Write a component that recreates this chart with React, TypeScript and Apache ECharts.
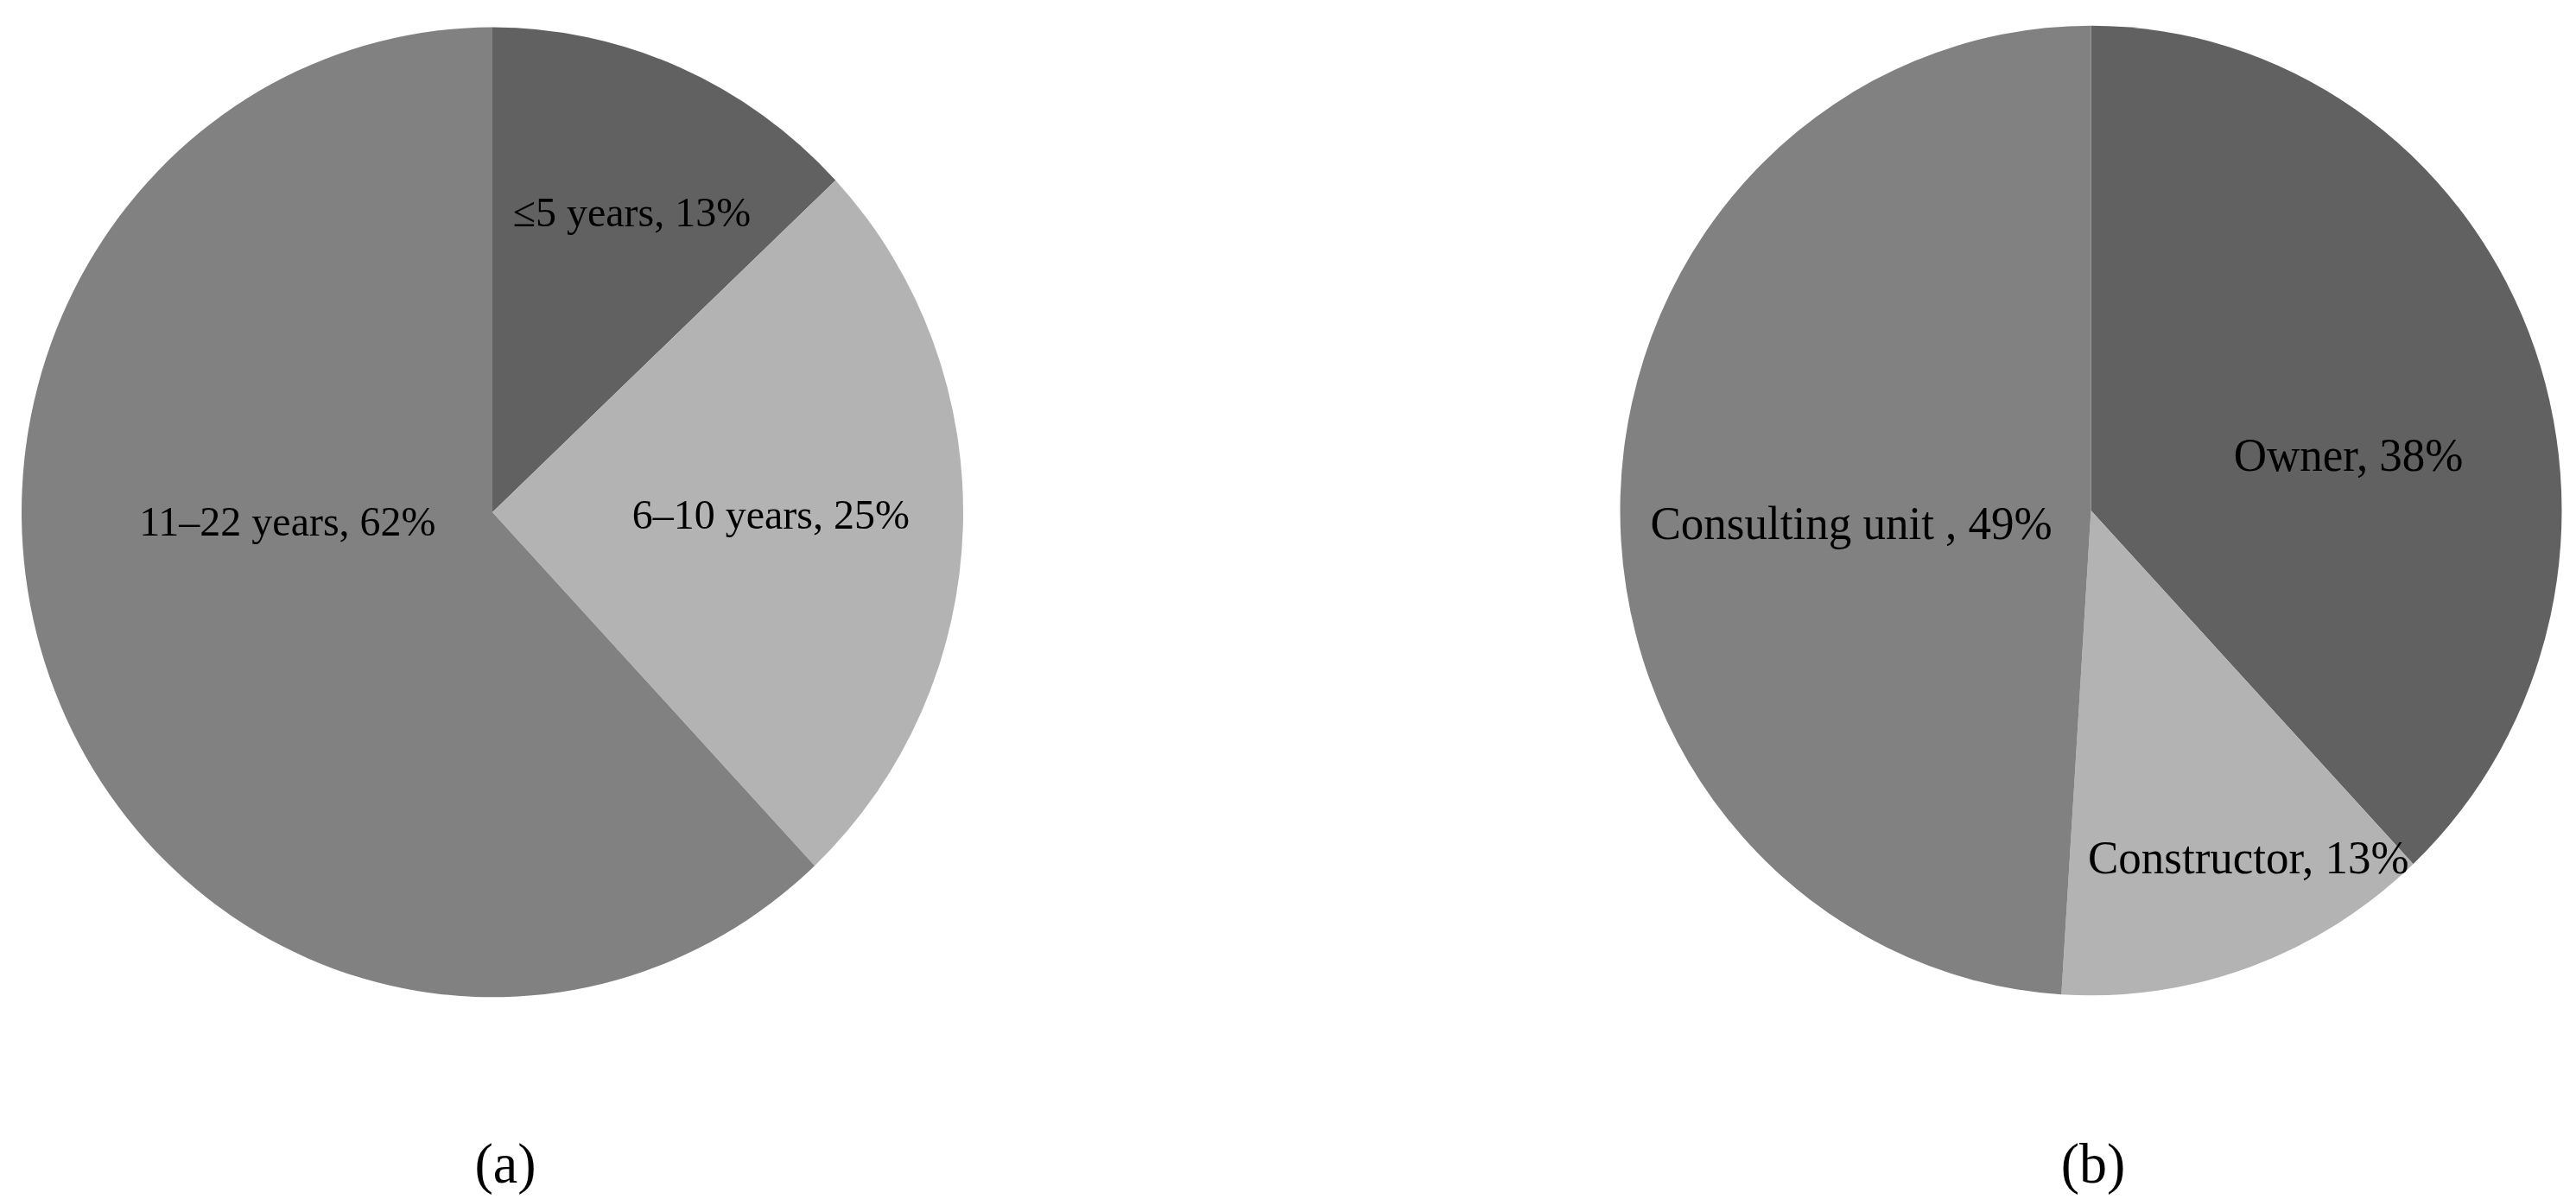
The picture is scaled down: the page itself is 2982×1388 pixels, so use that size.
import React, { useEffect, useRef } from "react";
import * as echarts from "echarts";

// Data
const experienceCategories = ["≤5 years", "6–10 years", "11–22 years"];
const experienceValues = [13, 25, 62];
const unitCategories = ["Owner", "Constructor", "Consulting unit "];
const unitValues = [38, 13, 49];
const panelLabels = ["(a)", "(b)"];

// Styling / layout
const STRETCH_Y = 1.03; // reference pies are slightly taller than wide
const sliceColors = ["#616161", "#b3b3b3", "#818181"];
const unitColors = ["#616161", "#b3b3b3", "#818181"];
const labelShiftA = [
  [52, -84],
  [47, -6],
  [19, -91],
];
const labelShiftB = [
  [42, 39],
  [89, 131],
  [-2, 23],
];
const FONT = "'Liberation Serif', 'Times New Roman', serif";

export default function App() {
  const ref = useRef<HTMLDivElement>(null);
  useEffect(() => {
    if (!ref.current) return;
    const chart = echarts.init(ref.current, null, { renderer: "svg" });
    const labelStyle = (size: number) => ({
      show: true,
      position: "inside",
      formatter: "{b}, {c}%",
      color: "#000",
      fontFamily: FONT,
      fontSize: size,
      fontWeight: "normal",
    });
    const mk = (names: string[], vals: number[], colors: string[]) =>
      names.map((n, i) => ({ name: n, value: vals[i], itemStyle: { color: colors[i] } }));
    chart.setOption({
      animation: false,
      backgroundColor: "#ffffff",
      series: [
        {
          type: "pie",
          center: [570, 575.7],
          radius: 545,
          startAngle: 90,
          clockwise: true,
          avoidLabelOverlap: false,
          itemStyle: { borderWidth: 0 },
          emphasis: { disabled: true },
          label: labelStyle(48),
          labelLine: { show: false },
          labelLayout: (p: any) => ({ dx: labelShiftA[p.dataIndex][0], dy: labelShiftA[p.dataIndex][1] }),
          data: mk(experienceCategories, experienceValues, sliceColors),
        },
        {
          type: "pie",
          center: [2420.5, 573.8],
          radius: 545,
          startAngle: 90,
          clockwise: true,
          avoidLabelOverlap: false,
          itemStyle: { borderWidth: 0 },
          emphasis: { disabled: true },
          label: labelStyle(53),
          labelLine: { show: false },
          labelLayout: (p: any) => ({ dx: labelShiftB[p.dataIndex][0], dy: labelShiftB[p.dataIndex][1] }),
          data: mk(unitCategories, unitValues, unitColors),
        },
      ],
      graphic: [
        {
          type: "text",
          x: 585,
          y: 1307,
          style: {
            text: panelLabels[0],
            fontFamily: FONT,
            fontSize: 64,
            fill: "#000",
            align: "center",
            verticalAlign: "middle",
          },
        },
        {
          type: "text",
          x: 2423,
          y: 1307,
          style: {
            text: panelLabels[1],
            fontFamily: FONT,
            fontSize: 64,
            fill: "#000",
            align: "center",
            verticalAlign: "middle",
          },
        },
      ],
    });
    return () => chart.dispose();
  }, []);
  return (
    <div
      ref={ref}
      style={{
        position: "fixed",
        left: 0,
        top: 0,
        width: 2982,
        height: Math.round(1388 / STRETCH_Y),
        background: "#fff",
        transform: `scaleY(${STRETCH_Y})`,
        transformOrigin: "0 0",
      }}
    />
  );
}
